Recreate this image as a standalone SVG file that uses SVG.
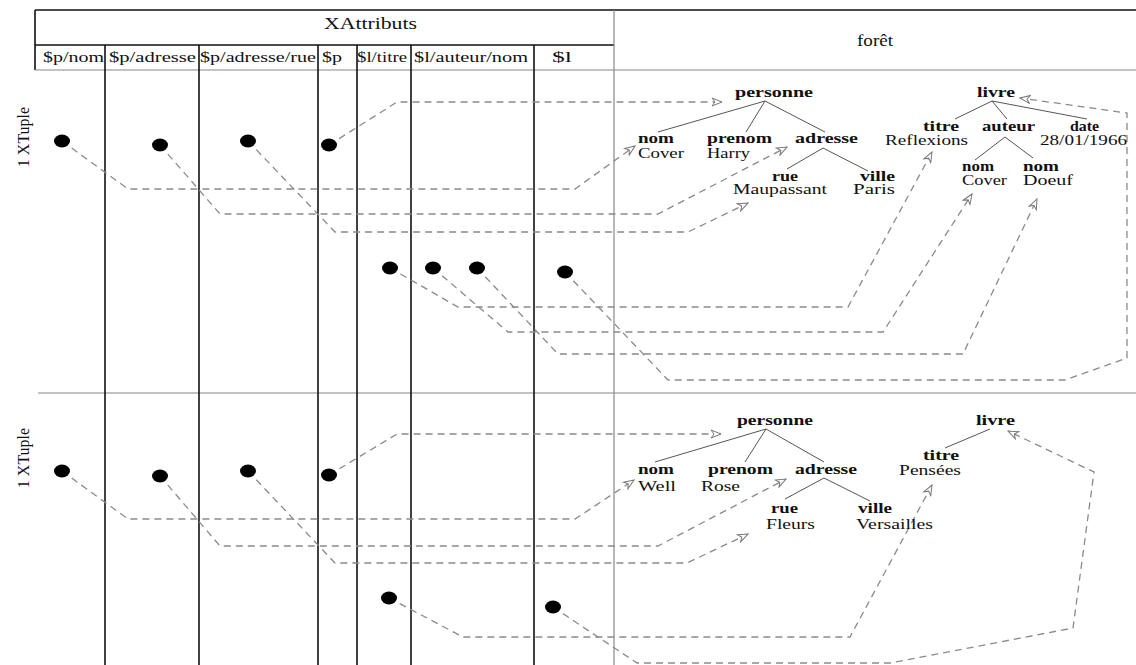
<svg xmlns="http://www.w3.org/2000/svg" width="1136" height="665" viewBox="0 0 1136 665">
<defs>
<marker id="arr" markerWidth="12" markerHeight="10" refX="11" refY="5" orient="auto" markerUnits="userSpaceOnUse">
<path d="M1,1 L11,5 L1,9 L4,5 Z" fill="#fff" stroke="#777" stroke-width="1"/>
</marker>
<style>
.t{font-family:"Liberation Serif","Times New Roman",serif;fill:#111}
.h{font-size:16px}
.c{font-size:14px}
.b{font-size:14px;font-weight:bold}
.v{font-size:14px}
.grid{stroke:#111;stroke-width:1.6;fill:none}
.thin{stroke:#888;stroke-width:1.2;fill:none}
.tree{stroke:#555;stroke-width:1;fill:none}
.dash{stroke:#8a8a8a;stroke-width:1.3;fill:none;stroke-dasharray:7,5;marker-end:url(#arr)}
.dot{fill:#000}
</style>
</defs>
<rect width="1136" height="665" fill="#fff"/>
<g id="table">
<line class="grid" x1="35" y1="10" x2="1136" y2="10"/>
<line class="grid" x1="35" y1="10" x2="35" y2="70"/>
<line class="grid" x1="35" y1="45" x2="614" y2="45"/>
<line class="thin" x1="614" y1="10" x2="614" y2="665"/>
<line class="thin" x1="35" y1="70" x2="1136" y2="70"/>
<line class="thin" x1="38" y1="393" x2="1136" y2="393"/>
<line class="grid" x1="105" y1="45" x2="105" y2="665"/>
<line class="grid" x1="199" y1="45" x2="199" y2="665"/>
<line class="grid" x1="318" y1="45" x2="318" y2="665"/>
<line class="grid" x1="357" y1="45" x2="357" y2="665"/>
<line class="grid" x1="411" y1="45" x2="411" y2="665"/>
<line class="grid" x1="534" y1="45" x2="534" y2="665"/>
<text class="t h" x="324" y="29" textLength="93" lengthAdjust="spacingAndGlyphs">XAttributs</text>
<text class="t h" x="857" y="46" textLength="36" lengthAdjust="spacingAndGlyphs">forêt</text>
<text class="t c" x="43" y="62" textLength="61" lengthAdjust="spacingAndGlyphs">$p/nom</text>
<text class="t c" x="109" y="62" textLength="87" lengthAdjust="spacingAndGlyphs">$p/adresse</text>
<text class="t c" x="200" y="62" textLength="116" lengthAdjust="spacingAndGlyphs">$p/adresse/rue</text>
<text class="t c" x="322" y="62" textLength="20" lengthAdjust="spacingAndGlyphs">$p</text>
<text class="t c" x="357" y="62" textLength="50" lengthAdjust="spacingAndGlyphs">$l/titre</text>
<text class="t c" x="414" y="62" textLength="114" lengthAdjust="spacingAndGlyphs">$l/auteur/nom</text>
<text class="t c" x="552" y="62" textLength="20" lengthAdjust="spacingAndGlyphs">$l</text>
<text class="t h" transform="translate(29,137) rotate(-90)" text-anchor="middle">1 XTuple</text>
<text class="t h" transform="translate(29,458) rotate(-90)" text-anchor="middle">1 XTuple</text>
</g>
<g id="connectors">
<path class="dash" d="M62,141 L128,189 L575,189 L635,146"/>
<path class="dash" d="M160,145 L220,214 L658,214 L787,147"/>
<path class="dash" d="M248,141 L335,232 L688,232 L748,203"/>
<path class="dash" d="M329,145 L397,102 L722,102"/>
<path class="dash" d="M390,268 L458,307 L848,307 L932,152"/>
<path class="dash" d="M433,268 L508,332 L883,332 L972,194"/>
<path class="dash" d="M477,268 L558,354 L963,354 L1037,199"/>
<path class="dash" d="M565,272 L668,380 L1065,380 L1127,358 L1127,113 L1020,98"/>
<path class="dash" d="M62,471 L128,519 L575,519 L634,480"/>
<path class="dash" d="M160,476 L220,546 L658,546 L786,479"/>
<path class="dash" d="M248,471 L335,563 L687,563 L748,534"/>
<path class="dash" d="M329,475 L397,434 L721,434"/>
<path class="dash" d="M389,598 L463,637 L850,637 L932,485"/>
<path class="dash" d="M553,607 L637,663 L890,663 L1073,628 L1094,472 L1008,431"/>
</g>
<g id="tuple1-dots">
<ellipse class="dot" cx="62" cy="141" rx="8" ry="6.5"/>
<ellipse class="dot" cx="160" cy="145" rx="8" ry="6.5"/>
<ellipse class="dot" cx="248" cy="141" rx="8" ry="6.5"/>
<ellipse class="dot" cx="329" cy="145" rx="8" ry="6.5"/>
<ellipse class="dot" cx="390" cy="268" rx="8" ry="6.5"/>
<ellipse class="dot" cx="433" cy="268" rx="8" ry="6.5"/>
<ellipse class="dot" cx="477" cy="268" rx="8" ry="6.5"/>
<ellipse class="dot" cx="565" cy="272" rx="8" ry="6.5"/>
</g>
<g id="tuple2-dots">
<ellipse class="dot" cx="62" cy="471" rx="8" ry="6.5"/>
<ellipse class="dot" cx="160" cy="476" rx="8" ry="6.5"/>
<ellipse class="dot" cx="248" cy="471" rx="8" ry="6.5"/>
<ellipse class="dot" cx="329" cy="475" rx="8" ry="6.5"/>
<ellipse class="dot" cx="389" cy="598" rx="8" ry="6.5"/>
<ellipse class="dot" cx="553" cy="607" rx="8" ry="6.5"/>
</g>
<g id="personne1">
<path class="tree" d="M765,101 L658,132 M765,101 L746,132 M765,101 L825,132 M823,148 L787,169 M823,148 L868,171"/>
<text class="t b" x="735" y="97" textLength="78" lengthAdjust="spacingAndGlyphs">personne</text>
<text class="t b" x="638" y="143" textLength="36" lengthAdjust="spacingAndGlyphs">nom</text>
<text class="t v" x="638" y="158" textLength="46" lengthAdjust="spacingAndGlyphs">Cover</text>
<text class="t b" x="707" y="143" textLength="65" lengthAdjust="spacingAndGlyphs">prenom</text>
<text class="t v" x="707" y="158" textLength="43" lengthAdjust="spacingAndGlyphs">Harry</text>
<text class="t b" x="795" y="143" textLength="63" lengthAdjust="spacingAndGlyphs">adresse</text>
<text class="t b" x="772" y="181" textLength="26" lengthAdjust="spacingAndGlyphs">rue</text>
<text class="t v" x="733" y="194" textLength="94" lengthAdjust="spacingAndGlyphs">Maupassant</text>
<text class="t b" x="860" y="181" textLength="35" lengthAdjust="spacingAndGlyphs">ville</text>
<text class="t v" x="853" y="194" textLength="42" lengthAdjust="spacingAndGlyphs">Paris</text>
</g>
<g id="livre1">
<path class="tree" d="M992,101 L955,119 M992,101 L1007,119 M992,101 L1087,119 M1005,137 L975,160 M1005,137 L1033,158"/>
<text class="t b" x="977" y="97" textLength="38" lengthAdjust="spacingAndGlyphs">livre</text>
<text class="t b" x="923" y="131" textLength="36" lengthAdjust="spacingAndGlyphs">titre</text>
<text class="t v" x="885" y="145" textLength="83" lengthAdjust="spacingAndGlyphs">Reflexions</text>
<text class="t b" x="982" y="131" textLength="53" lengthAdjust="spacingAndGlyphs">auteur</text>
<text class="t b" x="1070" y="131" textLength="29" lengthAdjust="spacingAndGlyphs">date</text>
<text class="t v" x="1040" y="145" textLength="87" lengthAdjust="spacingAndGlyphs">28/01/1966</text>
<text class="t b" x="962" y="171" textLength="32" lengthAdjust="spacingAndGlyphs">nom</text>
<text class="t v" x="962" y="185" textLength="45" lengthAdjust="spacingAndGlyphs">Cover</text>
<text class="t b" x="1023" y="171" textLength="36" lengthAdjust="spacingAndGlyphs">nom</text>
<text class="t v" x="1023" y="185" textLength="50" lengthAdjust="spacingAndGlyphs">Doeuf</text>
</g>
<g id="personne2">
<path class="tree" d="M766,429 L655,462 M766,429 L745,462 M766,429 L824,462 M824,478 L785,499 M824,478 L870,501"/>
<text class="t b" x="737" y="425" textLength="76" lengthAdjust="spacingAndGlyphs">personne</text>
<text class="t b" x="638" y="474" textLength="36" lengthAdjust="spacingAndGlyphs">nom</text>
<text class="t v" x="638" y="491" textLength="38" lengthAdjust="spacingAndGlyphs">Well</text>
<text class="t b" x="708" y="474" textLength="65" lengthAdjust="spacingAndGlyphs">prenom</text>
<text class="t v" x="701" y="491" textLength="39" lengthAdjust="spacingAndGlyphs">Rose</text>
<text class="t b" x="795" y="474" textLength="62" lengthAdjust="spacingAndGlyphs">adresse</text>
<text class="t b" x="771" y="513" textLength="27" lengthAdjust="spacingAndGlyphs">rue</text>
<text class="t v" x="766" y="529" textLength="49" lengthAdjust="spacingAndGlyphs">Fleurs</text>
<text class="t b" x="858" y="513" textLength="34" lengthAdjust="spacingAndGlyphs">ville</text>
<text class="t v" x="856" y="529" textLength="77" lengthAdjust="spacingAndGlyphs">Versailles</text>
</g>
<g id="livre2">
<path class="tree" d="M990,429 L945,448"/>
<text class="t b" x="976" y="425" textLength="39" lengthAdjust="spacingAndGlyphs">livre</text>
<text class="t b" x="923" y="460" textLength="36" lengthAdjust="spacingAndGlyphs">titre</text>
<text class="t v" x="899" y="475" textLength="62" lengthAdjust="spacingAndGlyphs">Pensées</text>
</g>
</svg>
